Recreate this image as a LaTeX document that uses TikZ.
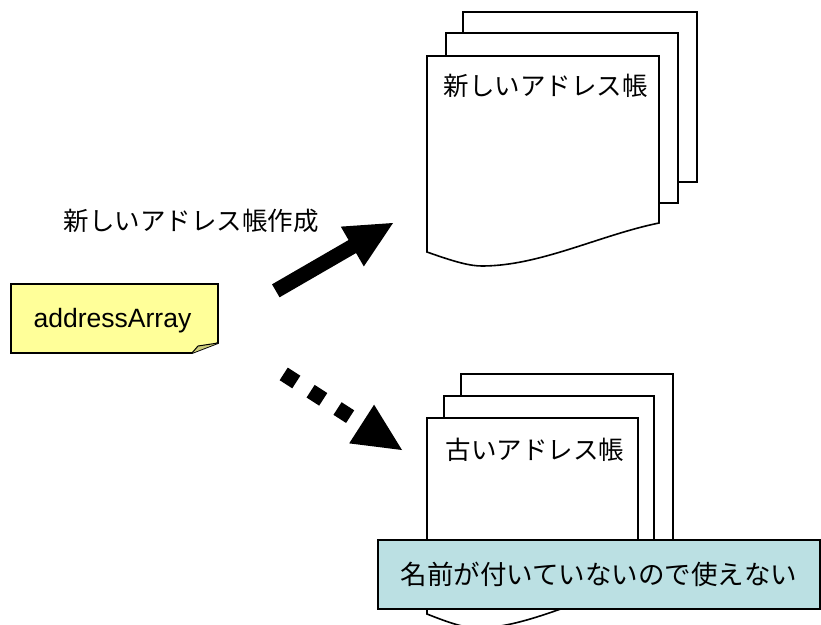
\documentclass[tikz,border=0pt]{standalone}
\usepackage{fontspec}
\setmainfont{Liberation Sans}
\newfontfamily\jpfont{Noto Sans CJK JP}
\usetikzlibrary{calc}
\definecolor{noteyellow}{HTML}{FFFF99}
\definecolor{notefold}{HTML}{CCCC7A}
\definecolor{labelblue}{HTML}{BBE0E3}
\begin{document}
\begin{tikzpicture}[x=1pt,y=-1pt,
  page/.style={draw=black, fill=white, line width=1.6pt, line join=miter},
  jptext/.style={font=\jpfont\fontsize{25.5}{30}\selectfont, inner sep=0pt},
  labelbox/.style={font=\jpfont\fontsize{26.5}{30}\selectfont, inner sep=0pt, draw=black, fill=labelblue, line width=2pt, minimum width=442pt, minimum height=69pt},
  notebox/.style={fill=noteyellow, draw=black, line width=1.8pt, line join=miter},
  notefoldstyle/.style={fill=notefold, draw=black, line width=1pt, line join=miter},
  notetext/.style={font=\fontsize{26.5}{30}\selectfont, inner sep=0pt, anchor=base},
  bigshaft/.style={line width=15pt},
  dotshaft/.style={line width=15pt, dash pattern=on 15pt off 17pt},
  headfill/.style={fill=black}
]
\useasboundingbox (0,0) rectangle (821,624);

% new address book stack
\path[page] (463,12) rectangle (697,182);
\path[page] (446,33) rectangle (678,203);
\path[page] (427,252) -- (427,56) -- (659,56) -- (659,223)
  .. controls (600,235) and (540,266) .. (482,266)
  .. controls (470,266) and (455,262) .. (427,252) -- cycle;
\node[jptext] (newtitle) at (545.5,86) {新しいアドレス帳};

% old address book stack
\path[page] (461,374) rectangle (673,560);
\path[page] (444,396) rectangle (654,570);
\path[page] (427,614) -- (427,418) -- (638,418) -- (638,585)
  .. controls (583,596) and (528,628) .. (477,628)
  .. controls (466,628) and (452,624) .. (427,614) -- cycle;
\node[jptext] (oldtitle) at (535,450) {古いアドレス帳};

\node[labelbox] (lbl) at (599,574.5) {名前が付いていないので使えない};

% note
\path[notebox] (11,284) -- (218,284) -- (218,343) -- (192,353) -- (11,353) -- cycle;
\path[notefoldstyle] (192,353) -- (198,346) -- (218,343);
\node[notetext] (arr) at (112.5,327) {addressArray};

\node[jptext] (mk) at (191,221) {新しいアドレス帳作成};

% solid arrow
\coordinate (s1) at (275.8,290.8);
\coordinate (t1) at (393,223);
\coordinate (b1) at ($(t1)!47pt!(s1)$);
\draw[bigshaft] (s1) -- ($(t1)!45pt!(s1)$);
\path[headfill] ($(b1)!23pt!90:(t1)$) -- (t1) -- ($(b1)!23pt!-90:(t1)$) -- cycle;

% dotted arrow
\coordinate (s2) at (283.7,373.9);
\coordinate (t2) at (402,450);
\coordinate (b2) at ($(t2)!48pt!(s2)$);
\draw[dotshaft] (s2) -- (b2);
\path[headfill] ($(b2)!23pt!90:(t2)$) -- (t2) -- ($(b2)!23pt!-90:(t2)$) -- cycle;
\end{tikzpicture}
\end{document}
